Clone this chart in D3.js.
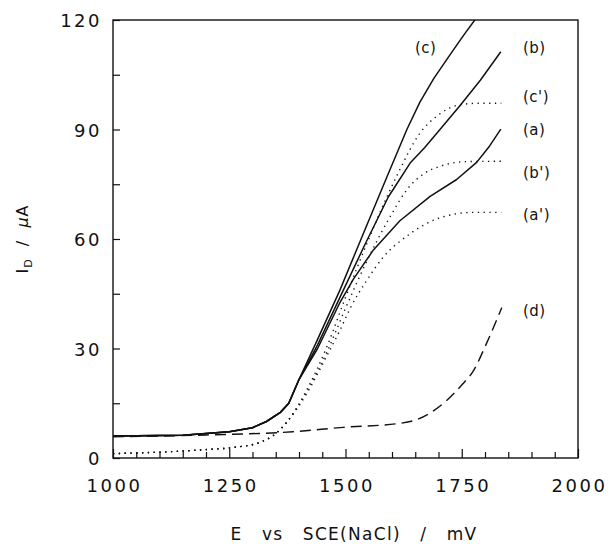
<!DOCTYPE html>
<html>
<head>
<meta charset="utf-8">
<script src="https://cdn.jsdelivr.net/npm/d3@7"></script>
<style>
  html, body { margin: 0; padding: 0; background: #fff; }
  svg { display: block; }
  text { font-family: "DejaVu Sans", "Liberation Sans", sans-serif; fill: #111; }
</style>
</head>
<body>
<svg id="chart" width="609" height="548"></svg>
<script>
// ---- Data ----
const xTicks = [1000, 1250, 1500, 1750, 2000];
const yTicks = [0, 30, 60, 90, 120];

const curveA = [[1000,6.0],[1150,6.2],[1250,7.2],[1300,8.3],[1330,10],[1360,12.5],[1378,15],[1400,21.5],[1440,30],[1488,42.6],[1517,49],[1560,57],[1617,65],[1682,71.7],[1739,76.3],[1782,81],[1810,85.5],[1834,90.1]];
const curveB = [[1000,6.0],[1150,6.2],[1250,7.2],[1300,8.3],[1330,10],[1360,12.5],[1378,15],[1400,21.5],[1440,31],[1488,44],[1540,58],[1592,71.5],[1639,80.8],[1670,85],[1700,89.5],[1746,96.5],[1790,103.5],[1834,111.3]];
const curveC = [[1000,6.0],[1150,6.2],[1250,7.2],[1300,8.3],[1330,10],[1360,12.5],[1378,15],[1400,21.5],[1440,32.5],[1488,46],[1540,62],[1589,77],[1632,90],[1660,97.5],[1690,104],[1725,110.5],[1755,116],[1781,120.5],[1800,124]];
const curveAp = [[1000,1.2],[1100,1.6],[1200,2.3],[1260,2.9],[1316,4.3],[1344,6.1],[1373,9.7],[1416,17.5],[1460,28],[1488,35],[1510,41],[1545,48.5],[1581,55],[1632,60.8],[1703,65.8],[1775,67.3],[1835,67.3]];
const curveBp = [[1000,1.2],[1100,1.6],[1200,2.3],[1260,2.9],[1316,4.3],[1344,6.1],[1373,9.7],[1416,18],[1460,29],[1500,41],[1550,55],[1600,67],[1632,73.5],[1670,78],[1703,79.9],[1760,81.2],[1835,81.3]];
const curveCp = [[1000,1.2],[1100,1.6],[1200,2.3],[1260,2.9],[1316,4.3],[1344,6.1],[1373,9.7],[1416,18.5],[1460,30.5],[1500,44],[1550,60],[1613,78],[1660,89],[1700,94],[1746,96.8],[1790,97.2],[1835,97.2]];
const curveD = [[1000,5.8],[1200,6.3],[1387,7.2],[1495,8.4],[1617,9.5],[1653,10.5],[1690,13],[1717,15.7],[1750,20],[1775,23.9],[1804,31.6],[1836,41.2]];

const seriesNames = ["(a)","(b)","(c)","(a')","(b')","(c')","(d)"];
const seriesData  = [curveA, curveB, curveC, curveAp, curveBp, curveCp, curveD];
const seriesStyle = ["solid","solid","solid","dot","dot","dot","dash"];
const labelPos = [[523,130],[523,48],[415,48],[523,215],[523,173],[523,97],[523,311]];

const xLabel = "E  vs  SCE(NaCl)  /  mV";

// ---- Layout ----
const svg = d3.select("#chart");
const m = {left:113, right:578, top:20, bottom:458};
const x = d3.scaleLinear().domain([1000,2000]).range([m.left, m.right]);
const y = d3.scaleLinear().domain([0,120]).range([m.bottom, m.top]);

svg.append("defs").append("clipPath").attr("id","clip")
  .append("rect").attr("x",m.left).attr("y",m.top)
  .attr("width",m.right-m.left).attr("height",m.bottom-m.top);

// axes (ticks inward)
const xMinor = d3.range(1000, 2001, 50);
const xAxis = svg.append("g").attr("transform",`translate(0,${m.bottom})`)
  .call(d3.axisBottom(x).tickValues(xMinor).tickSize(0).tickFormat(""));
xAxis.select(".domain").remove();
xAxis.selectAll(".tick line").attr("y2", d => (d % 250 === 0 ? -9 : -6)).attr("stroke","#111").attr("stroke-width",1.2);

const yMinor = d3.range(0, 121, 15);
const yAxis = svg.append("g").attr("transform",`translate(${m.left},0)`)
  .call(d3.axisLeft(y).tickValues(yMinor).tickSize(0).tickFormat(""));
yAxis.select(".domain").remove();
yAxis.selectAll(".tick line").attr("x2", 7).attr("stroke","#111").attr("stroke-width",1.2);

// frame
svg.append("rect").attr("x",m.left).attr("y",m.top)
  .attr("width",m.right-m.left).attr("height",m.bottom-m.top)
  .attr("fill","none").attr("stroke","#111").attr("stroke-width",1.4);

// tick labels
svg.selectAll(".xl").data(xTicks).enter().append("text")
  .attr("x", d => x(d) + 1.5).attr("y", 487)
  .attr("text-anchor","middle").attr("dominant-baseline","middle")
  .style("font-size","18px").style("letter-spacing","2.5px")
  .text(d => d);
svg.selectAll(".yl").data(yTicks).enter().append("text")
  .attr("x", 102).attr("y", d => y(d) + 2)
  .attr("text-anchor","end").attr("dominant-baseline","middle")
  .style("font-size","18px").style("letter-spacing","2.5px")
  .text(d => d);

// axis titles
svg.append("text").attr("x", 354).attr("y", 535)
  .attr("text-anchor","middle").attr("dominant-baseline","middle")
  .style("font-size","17px").style("letter-spacing","1.3px").style("word-spacing","3px").style("white-space","pre")
  .text(xLabel);

const yt = svg.append("text").attr("transform","translate(28,239) rotate(-90)")
  .attr("text-anchor","middle")
  .style("font-size","16px").style("letter-spacing","1px").style("white-space","pre");
yt.append("tspan").text("I");
yt.append("tspan").attr("dy",4).style("font-size","11px").text("D");
yt.append("tspan").attr("dy",-4).text("  /  ");
yt.append("tspan").style("font-style","italic").text("μ");
yt.append("tspan").text("A");

// curves
const lineSolid = d3.line().x(d => x(d[0])).y(d => y(d[1])).curve(d3.curveLinear);
const lineSmooth = d3.line().x(d => x(d[0])).y(d => y(d[1])).curve(d3.curveMonotoneX);
const g = svg.append("g").attr("clip-path","url(#clip)");
seriesData.forEach((s, i) => {
  const st = seriesStyle[i];
  g.append("path").datum(s).attr("d", st === "solid" ? lineSolid : lineSmooth)
    .attr("fill","none").attr("stroke","#111")
    .attr("stroke-width", st === "solid" ? 1.5 : 1.4)
    .attr("stroke-linejoin","round")
    .attr("stroke-dasharray", st === "dot" ? "1.3,4.5" : (st === "dash" ? "11,6" : null));
});

// series labels
seriesNames.forEach((n, i) => {
  svg.append("text").attr("x", labelPos[i][0]).attr("y", labelPos[i][1])
    .attr("dominant-baseline","middle")
    .style("font-size","15px").style("letter-spacing","0.5px")
    .text(n);
});
</script>
</body>
</html>
